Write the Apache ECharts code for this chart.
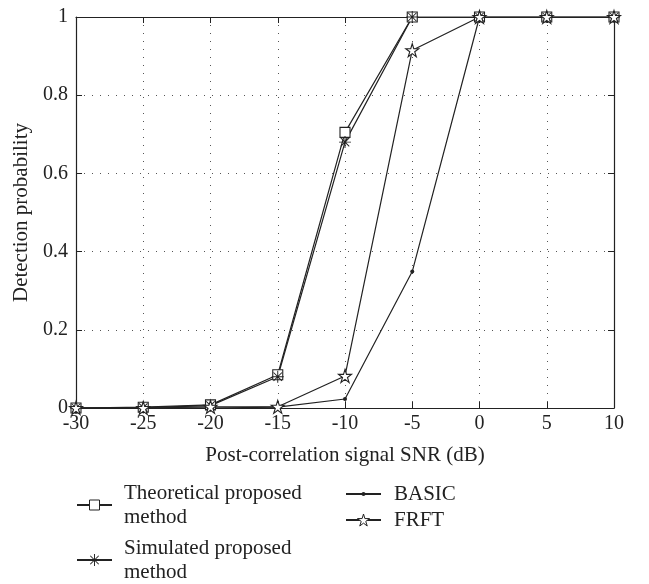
<!DOCTYPE html>
<html>
<head>
<meta charset="utf-8">
<script src="https://cdn.jsdelivr.net/npm/echarts@6/dist/echarts.min.js"></script>
<style>
  html, body { margin: 0; padding: 0; background: #fff; }
  #chart { width: 649px; height: 584px; }
</style>
</head>
<body>
<div id="chart"></div>
<script>
// SNR values (dB) along the x axis
const snr = [-30, -25, -20, -15, -10, -5, 0, 5, 10];

// Detection probability per method
const theoretical = [0, 0.002, 0.008, 0.085, 0.705, 1, 1, 1, 1];
const simulated   = [0, 0.001, 0.006, 0.080, 0.680, 1, 1, 1, 1];
const basic       = [0, 0, 0, 0.002, 0.023, 0.349, 1, 1, 1];
const frft        = [0, 0, 0.003, 0.003, 0.082, 0.915, 1, 1, 1];

const seriesNames = [
  'Theoretical proposed method',
  'Simulated proposed method',
  'BASIC',
  'FRFT'
];

const FONT = 'Liberation Serif';
const INK = '#222';

// Hollow five-point star
const starPath = 'path://M0,-100L22,-31L95,-31L36,12L59,81L0,38L-59,81L-36,12L-95,-31L-22,-31Z';
// Asterisk made of four thin bars (vertical, horizontal and both diagonals)
const asteriskPath = 'path://' +
  'M-8,-100L8,-100L8,100L-8,100Z' +
  'M100,-8L100,8L-100,8L-100,-8Z' +
  'M65.05,-76.37L76.37,-65.05L-65.05,76.37L-76.37,65.05Z' +
  'M-76.37,-65.05L-65.05,-76.37L76.37,65.05L65.05,76.37Z';

function pairs(ys) {
  return snr.map((x, i) => [x, ys[i]]);
}

const chart = echarts.init(document.getElementById('chart'), null, { renderer: 'canvas' });

const lineBase = {
  type: 'line',
  xAxisIndex: 0,
  yAxisIndex: 0,
  animation: false,
  lineStyle: { color: INK, width: 1.2 },
  emphasis: { disabled: true }
};

const hollowMark = { color: '#fff', borderColor: INK, borderWidth: 1 };
const solidMark = { color: INK, borderWidth: 0 };

// One legend block per entry; the icon's marker is 80% of itemHeight
function legendAt(name, left, top, markHeight, textPad, markStyle) {
  return {
    data: [{ name: name, itemStyle: markStyle }],
    left: left, top: top,
    padding: 0,
    itemWidth: 35, itemHeight: markHeight,
    selectedMode: false,
    formatter: n => n.replace(' method', '\nmethod'),
    textStyle: { fontFamily: FONT, fontSize: 21, color: INK, lineHeight: 24, padding: [0, 0, 0, textPad] }
  };
}

chart.setOption({
  backgroundColor: '#fff',
  textStyle: { fontFamily: FONT },
  grid: { left: 76, right: 35, top: 17, bottom: 176 },
  xAxis: [
    {
      type: 'value',
      min: -30, max: 10, interval: 5,
      name: 'Post-correlation signal SNR (dB)',
      nameLocation: 'middle',
      nameGap: 37,
      nameTextStyle: { fontFamily: FONT, fontSize: 21, color: INK },
      axisLine: { show: true, onZero: false, lineStyle: { color: INK, width: 1.2 } },
      axisTick: { show: true, inside: true, length: 6, lineStyle: { color: INK } },
      axisLabel: { fontFamily: FONT, fontSize: 20, color: INK, margin: 6 },
      splitLine: { show: true, lineStyle: { color: '#555', width: 1, type: [1, 7] } }
    },
    {
      type: 'value', position: 'top',
      min: -30, max: 10, interval: 5,
      axisLine: { show: true, onZero: false, lineStyle: { color: INK, width: 1.2 } },
      axisTick: { show: true, inside: true, length: 6, lineStyle: { color: INK } },
      axisLabel: { show: false },
      splitLine: { show: false }
    }
  ],
  yAxis: [
    {
      type: 'value',
      min: 0, max: 1, interval: 0.2,
      name: 'Detection probability',
      nameLocation: 'middle',
      nameGap: 40,
      nameTextStyle: { fontFamily: FONT, fontSize: 21, color: INK },
      axisLine: { show: true, onZero: false, lineStyle: { color: INK, width: 1.2 } },
      axisTick: { show: true, inside: true, length: 6, lineStyle: { color: INK } },
      axisLabel: { fontFamily: FONT, fontSize: 20, color: INK, margin: 8 },
      splitLine: { show: true, lineStyle: { color: '#555', width: 1, type: [1, 7] } }
    },
    {
      type: 'value', position: 'right',
      min: 0, max: 1, interval: 0.2,
      axisLine: { show: true, onZero: false, lineStyle: { color: INK, width: 1.2 } },
      axisTick: { show: true, inside: true, length: 6, lineStyle: { color: INK } },
      axisLabel: { show: false },
      splitLine: { show: false }
    }
  ],
  legend: [
    legendAt(seriesNames[0], 76, 481, 12.5, 7, hollowMark),
    legendAt(seriesNames[1], 76, 536, 15, 7, solidMark),
    legendAt(seriesNames[2], 345, 482, 5, 8, solidMark),
    legendAt(seriesNames[3], 345, 508, 15, 8, hollowMark)
  ],
  series: [
    Object.assign({}, lineBase, {
      name: seriesNames[0],
      data: pairs(theoretical),
      symbol: 'rect', symbolSize: 10,
      itemStyle: { color: '#fff', borderColor: INK, borderWidth: 1.1 }
    }),
    Object.assign({}, lineBase, {
      name: seriesNames[1],
      data: pairs(simulated),
      symbol: asteriskPath, symbolSize: 12,
      itemStyle: { color: INK, borderWidth: 0 }
    }),
    Object.assign({}, lineBase, {
      name: seriesNames[2],
      data: pairs(basic),
      symbol: 'circle', symbolSize: 4,
      itemStyle: { color: INK, borderWidth: 0 }
    }),
    Object.assign({}, lineBase, {
      name: seriesNames[3],
      data: pairs(frft),
      symbol: starPath, symbolSize: 13,
      itemStyle: { color: '#fff', borderColor: INK, borderWidth: 1.1 }
    })
  ]
});
</script>
</body>
</html>
